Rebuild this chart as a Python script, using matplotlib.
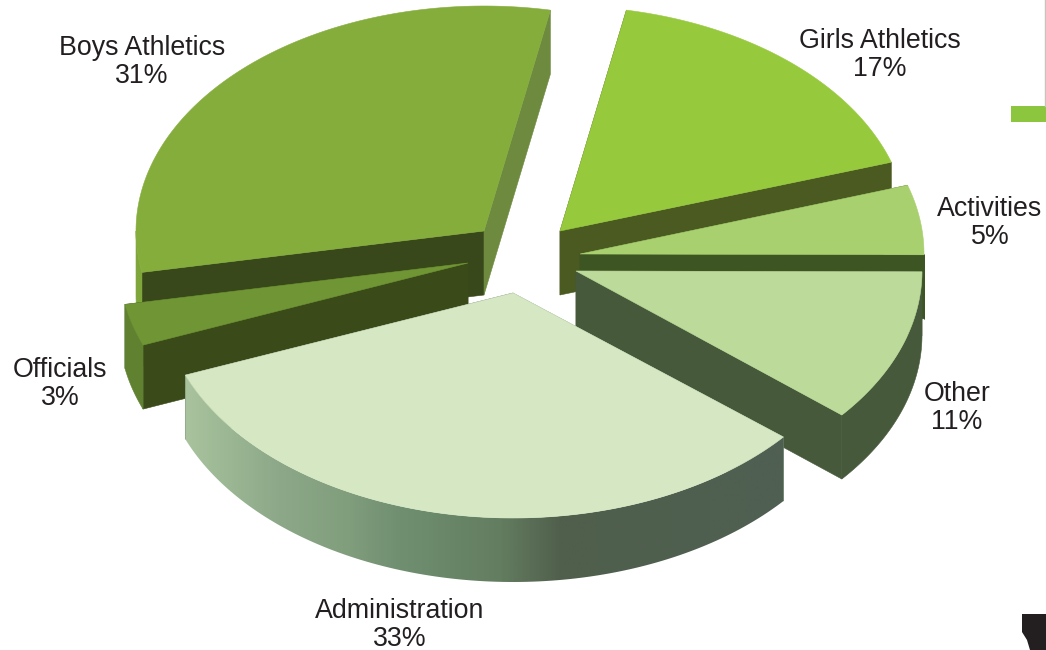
import matplotlib

matplotlib.use("Agg")
import matplotlib.pyplot as plt
import numpy as np
from matplotlib.colors import LinearSegmentedColormap
from matplotlib.patches import Polygon, Rectangle

plt.rcParams["font.family"] = ["Liberation Sans", "DejaVu Sans"]

# clockwise on screen, starting from the right edge of Administration
categories = ["Administration", "Officials", "Boys Athletics", "Girls Athletics", "Activities", "Other"]
shares = [33, 3, 31, 17, 5, 11]

# styling and layout, same order as categories
apexes = [(513, 293), (468, 263), (484, 231), (560, 231), (580, 254), (576, 271)]
radii_x = [352, 349, 348, 348, 344, 346]
top_colors = ["#d6e7c3", "#6f9534", "#85ad3c", "#97c93d", "#a8d06e", "#bcdb9a"]
side_colors = ["#6f8f70", "#5f8130", "#7fa63a", "#4a5a20", "#3d5522", "#46593a"]
start_cut_colors = ["#6f8f70", "#3a4a18", "#38481a", "#4a5a20", "#3d5522", "#46593a"]
end_cut_colors = ["#4f5f52", "#3a4a18", "#6d8a3e", "#4a5a20", "#3d5522", "#46593a"]
label_xy = [(400, 625), (60, 384), (142, 62), (880, 55), (990, 223), (957, 408)]
draw_order = [2, 3, 4, 1, 5, 0]

RADIUS_Y = 225
DEPTH = 64
START_ANGLE = 39.8

gradient_x = [187, 280, 350, 400, 500, 530, 560, 782]
gradient_colors = ["#a8c39d", "#8ca888", "#809d7c", "#708f71", "#637d60", "#5a6e56", "#505f4c", "#4f5f52"]


def rim(apex, radius_x, angles):
    radians = np.deg2rad(angles)
    return np.column_stack(
        [apex[0] + radius_x * np.cos(radians), apex[1] + RADIUS_Y * np.sin(radians)]
    )


def extrude(points):
    lowered = points + np.array([0, DEPTH])
    return np.vstack([points, lowered[::-1]])


def add_face(axis, points, color, zorder):
    axis.add_patch(Polygon(points, closed=True, facecolor=color, edgecolor=color, linewidth=0.4, zorder=zorder))


figure = plt.figure(figsize=(10.46, 6.5), dpi=100)
axis = figure.add_axes([0, 0, 1, 1])
axis.set_xlim(0, 1046)
axis.set_ylim(650, 0)
axis.axis("off")

sweeps = np.array(shares) / sum(shares) * 360
starts = START_ANGLE + np.concatenate([[0], np.cumsum(sweeps)[:-1]])

for order, index in enumerate(draw_order):
    apex = np.array(apexes[index], dtype=float)
    radius_x = radii_x[index]
    start = starts[index]
    end = start + sweeps[index]
    zorder = 2 + order

    start_edge = np.vstack([apex, rim(apex, radius_x, np.array([start]))])
    end_edge = np.vstack([apex, rim(apex, radius_x, np.array([end]))])
    add_face(axis, extrude(start_edge), start_cut_colors[index], zorder)
    add_face(axis, extrude(end_edge), end_cut_colors[index], zorder)

    # outer wall, only the part of the rim that faces the viewer
    for low, high in [(0, 180), (360, 540)]:
        wall_start = max(start, low)
        wall_end = min(end, high)
        if wall_end <= wall_start:
            continue
        wall = extrude(rim(apex, radius_x, np.linspace(wall_start, wall_end, 120)))
        if categories[index] == "Administration":
            clip = Polygon(wall, closed=True, transform=axis.transData)
            cmap = LinearSegmentedColormap.from_list(
                "wall",
                [((x - gradient_x[0]) / (gradient_x[-1] - gradient_x[0]), c) for x, c in zip(gradient_x, gradient_colors)],
            )
            image = axis.imshow(
                np.linspace(0, 1, 400).reshape(1, -1),
                cmap=cmap,
                extent=(gradient_x[0] - 3, gradient_x[-1] + 3, 650, 0),
                aspect="auto",
                zorder=zorder,
            )
            image.set_clip_path(clip)
        else:
            add_face(axis, wall, side_colors[index], zorder)

    top = np.vstack([apex, rim(apex, radius_x, np.linspace(start, end, 160))])
    add_face(axis, top, top_colors[index], zorder + 0.5)

    axis.text(
        label_xy[index][0],
        label_xy[index][1],
        f"{categories[index]}\n{shares[index]}%",
        ha="center",
        va="center",
        fontsize=19.3,
        color="#231f20",
        linespacing=1.06,
        zorder=20,
    )

# leftovers of the page the chart was cut from
axis.add_patch(Rectangle((1011, 106), 35, 16, facecolor="#8cc63f", edgecolor="none", zorder=1))
axis.plot([1045, 1045], [0, 106], color="#c8c4b8", linewidth=1, zorder=1)
axis.add_patch(
    Polygon(
        [(1022, 614), (1046, 614), (1046, 650), (1030, 650), (1027, 640), (1022, 632)],
        closed=True,
        facecolor="#231f20",
        edgecolor="none",
        zorder=1,
    )
)

axis.set_xlim(0, 1046)
axis.set_ylim(650, 0)
figure.savefig("out.png", dpi=100, facecolor="white")
plt.close(figure)
